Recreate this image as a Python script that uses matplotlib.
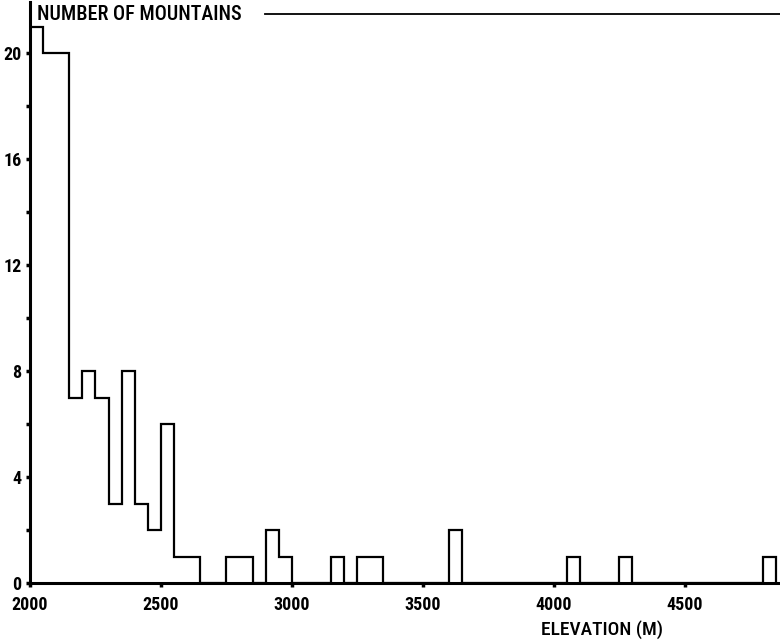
import numpy as np
import matplotlib
matplotlib.use("Agg")
from matplotlib import pyplot as plt
from matplotlib.lines import Line2D

plt.rcParams["font.family"] = ["Roboto Condensed", "DejaVu Sans"]

# number of mountains per 50 m elevation class, starting at 2000 m
bin_start = 2000
bin_width = 50
counts = [21, 20, 20, 7, 8, 7, 3, 8, 3, 2,
          6, 1, 1, 0, 0, 1, 1, 0, 2, 1,
          0, 0, 0, 1, 0, 1, 1, 0, 0, 0,
          0, 0, 2, 0, 0, 0, 0, 0, 0, 0,
          0, 1, 0, 0, 0, 1, 0, 0, 0, 0,
          0, 0, 0, 0, 0, 0, 1]
xticks = [2000, 2500, 3000, 3500, 4000, 4500]
yticks = [0, 4, 8, 12, 16, 20]
yminor = [2, 6, 10, 14, 18]

edges = bin_start + bin_width * np.arange(len(counts) + 1)

W, H = 780, 640
fig = plt.figure(figsize=(W / 100, H / 100), dpi=100)
ax = fig.add_axes([30 / W, 57 / H, 750 / W, 581 / H])

ax.stairs(counts, edges, color="k", lw=1.6, baseline=0)

ax.set_xlim(2000, 2000 + 750 / 0.2618)
ax.set_ylim(0, 581 / 26.5)
ax.set_xticks(xticks, [str(t) for t in xticks])
ax.set_yticks(yticks, [str(t) for t in yticks])
ax.set_yticks(yminor, minor=True)

for s in ["top", "right"]:
    ax.spines[s].set_visible(False)
ax.spines["left"].set_linewidth(2.2)
ax.spines["bottom"].set_linewidth(2.2)
ax.tick_params(which="both", direction="out", length=3, width=2.5, color="k")
ax.tick_params(axis="x", labelsize=13, pad=6)
ax.tick_params(axis="y", labelsize=13, pad=3)
for lab in ax.get_xticklabels() + ax.get_yticklabels():
    lab.set_fontweight("bold")

fig.text(37 / W, 1 - 14 / H, "NUMBER OF MOUNTAINS", fontsize=14.5, fontweight="medium",
         va="center", ha="left")
fig.add_artist(Line2D([265 / W, 1], [1 - 14 / H, 1 - 14 / H], transform=fig.transFigure,
                      color="k", lw=1.3))
fig.text(663 / W, 1 - 630 / H, "ELEVATION (M)", fontsize=14, fontweight="medium",
         va="center", ha="right")

fig.savefig("out.png", dpi=100)
